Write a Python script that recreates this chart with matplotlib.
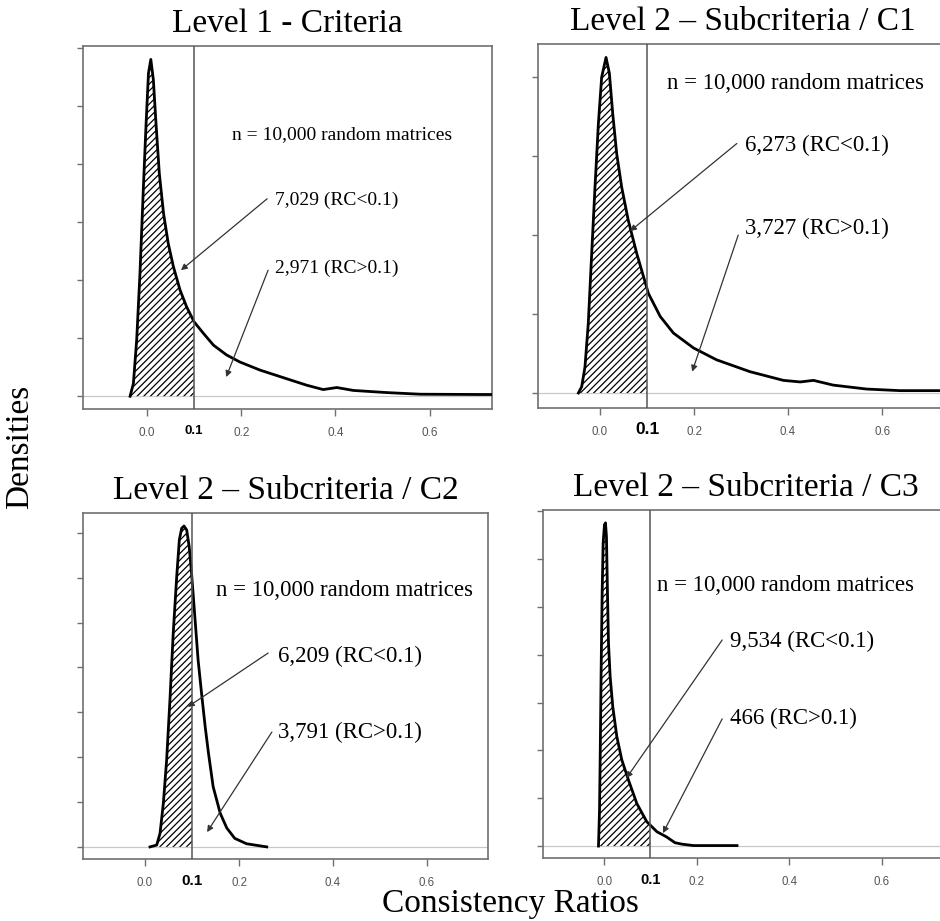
import numpy as np
import matplotlib
matplotlib.use("Agg")
import matplotlib.pyplot as plt

# density curves (x = consistency ratio, y = density, arbitrary units)
c1_x = [-0.036, -0.029, -0.022, -0.015, -0.008, -0.002, 0.003, 0.008, 0.0134, 0.019, 0.026, 0.035,
        0.045, 0.056, 0.070, 0.084, 0.100, 0.120, 0.141, 0.169, 0.197, 0.240, 0.297, 0.339, 0.374,
        0.403, 0.438, 0.509, 0.580, 0.707, 0.735]
c1_y = [0.0, 0.22, 0.97, 2.12, 3.55, 4.70, 5.56, 5.80, 5.45, 4.70, 3.84, 3.15,
        2.63, 2.23, 1.83, 1.54, 1.28, 1.08, 0.88, 0.71, 0.59, 0.45, 0.30, 0.19, 0.115,
        0.15, 0.10, 0.063, 0.035, 0.03, 0.03]

c2_x = [-0.046, -0.039, -0.032, -0.025, -0.018, -0.011, -0.0035, 0.0035, 0.0128, 0.0199, 0.027,
        0.0355, 0.046, 0.060, 0.078, 0.103, 0.128, 0.156, 0.199, 0.248, 0.319, 0.390, 0.426,
        0.454, 0.496, 0.567, 0.638, 0.723, 0.74]
c2_y = [0.0, 0.08, 0.33, 0.88, 1.73, 2.57, 3.41, 4.0, 4.25, 4.05, 3.54,
        3.03, 2.61, 2.19, 1.77, 1.26, 0.97, 0.76, 0.57, 0.42, 0.27, 0.16, 0.14,
        0.16, 0.10, 0.05, 0.03, 0.03, 0.035]

c3_x = [0.0106, 0.0248, 0.0319, 0.039, 0.046, 0.053, 0.060, 0.0674, 0.073, 0.078, 0.083, 0.0887,
        0.094, 0.099, 0.106, 0.113, 0.121, 0.128, 0.135, 0.145, 0.160, 0.174, 0.191, 0.216, 0.259]
c3_y = [0.0, 0.04, 0.30, 0.97, 1.94, 3.27, 4.76, 6.02, 6.84, 7.10, 7.15, 7.06,
        6.69, 6.10, 5.13, 4.16, 3.35, 2.68, 2.09, 1.34, 0.75, 0.42, 0.19, 0.07, 0.0]

c4_x = [-0.0122, -0.010, -0.0086, -0.0065, -0.0043, -0.0022, 0.0007, 0.0029, 0.005, 0.0072, 0.0094,
        0.013, 0.0187, 0.0274, 0.0382, 0.0526, 0.0706, 0.092, 0.114, 0.135, 0.153, 0.168, 0.193, 0.287]
c4_y = [0.0, 0.75, 1.8, 3.68, 5.29, 6.33, 6.72, 6.76, 6.47, 5.29, 4.24,
        3.54, 2.91, 2.29, 1.80, 1.38, 0.89, 0.51, 0.30, 0.19, 0.07, 0.04, 0.01, 0.01]

titles = ["Level 1 - Criteria", "Level 2 \u2013 Subcriteria / C1",
          "Level 2 \u2013 Subcriteria / C2", "Level 2 \u2013 Subcriteria / C3"]
below = ["7,029 (RC<0.1)", "6,273 (RC<0.1)", "6,209 (RC<0.1)", "9,534 (RC<0.1)"]
above = ["2,971 (RC>0.1)", "3,727 (RC>0.1)", "3,791 (RC>0.1)", "466 (RC>0.1)"]
n_text = "n = 10,000 random matrices"
threshold = 0.1

curves = [(c1_x, c1_y), (c2_x, c2_y), (c3_x, c3_y), (c4_x, c4_y)]

# layout: axes rectangles, limits, text placement
rects = [[0.0883, 0.5559, 0.4351, 0.3941],
         [0.5723, 0.5570, 0.4351, 0.3952],
         [0.0883, 0.0673, 0.4309, 0.3757],
         [0.5777, 0.0684, 0.4309, 0.3779]]
xlims = [(-0.136, 0.7325), (-0.132, 0.738), (-0.132, 0.730), (-0.132, 0.743)]
ylims = [(-0.22, 6.03), (-0.19, 4.42), (-0.27, 7.44), (-0.25, 7.03)]
ntick = [6, 4, 7, 7]
txt_size = [14, 16.5, 16.5, 16.5]
n_pos = [(0.180, 4.5), (0.143, 3.92), (0.151, 5.72), (0.114, 5.46)]
lab_pos = [((0.272, 3.38), (0.272, 2.2)), ((0.309, 3.13), (0.309, 2.09)),
           ((0.283, 4.25), (0.283, 2.54)), ((0.272, 4.27), (0.272, 2.66))]
arr1 = [((0.255, 3.40), (0.072, 2.17)), ((0.291, 3.16), (0.064, 2.05)),
        ((0.262, 4.32), (0.091, 3.12)), ((0.255, 4.31), (0.048, 1.42))]
arr2 = [((0.257, 2.17), (0.168, 0.33)), ((0.294, 2.0), (0.196, 0.27)),
        ((0.270, 2.56), (0.132, 0.33)), ((0.255, 2.66), (0.127, 0.27))]
tick_size = [8.5, 8.3, 8.3, 8.3]
bold_size = [9.5, 12.5, 11, 10.5]

plt.rcParams['hatch.linewidth'] = 0.9
serif = ['Liberation Serif', 'DejaVu Serif']
sans = ['Liberation Sans', 'DejaVu Sans']

fig = plt.figure(figsize=(9.4, 9.21), dpi=100)

for i in range(4):
    ax = fig.add_axes(rects[i])
    x = np.array(curves[i][0])
    y = np.array(curves[i][1])

    # hatched part below the threshold
    y_cut = np.interp(threshold, x, y)
    keep = x < threshold
    fx = np.append(x[keep], threshold)
    fy = np.append(y[keep], y_cut)
    ax.fill_between(fx, fy, 0, facecolor='white', edgecolor='black',
                    hatch='/////', linewidth=0, zorder=2)

    ax.axhline(0, color='#c8c8c8', lw=0.9, zorder=1)
    ax.plot(x, y, color='black', lw=2.0, zorder=3, solid_joinstyle='round')
    ax.axvline(threshold, color='#555555', lw=1.1, zorder=4)

    ax.set_xlim(*xlims[i])
    ax.set_ylim(*ylims[i])

    for s in ax.spines.values():
        s.set_color('#707070')
        s.set_linewidth(1.2)

    ax.set_yticks(range(ntick[i] + 1))
    ax.set_yticklabels([])
    ax.tick_params(axis='y', direction='out', length=4, width=1, color='#707070')

    ax.set_xticks([0.0, 0.2, 0.4, 0.6])
    ax.set_xticklabels(['0.0', '0.2', '0.4', '0.6'], fontfamily=sans)
    ax.set_xticks([threshold], minor=True)
    ax.set_xticklabels(['0.1'], minor=True, fontfamily=sans)
    ax.tick_params(axis='x', which='major', direction='out', length=5, width=1,
                   color='#707070', labelcolor='#555555', labelsize=tick_size[i], pad=8)
    ax.tick_params(axis='x', which='minor', length=0, labelcolor='black',
                   labelsize=bold_size[i], pad=12 - (bold_size[i] - tick_size[i]) * 0.5)
    for lbl in ax.get_xticklabels(minor=True):
        lbl.set_fontweight('bold')

    ax.set_title(titles[i], fontsize=24, family=serif, pad=10)

    ax.text(n_pos[i][0], n_pos[i][1], n_text, fontsize=txt_size[i], family=serif,
            va='center', ha='left', zorder=5)
    ax.text(lab_pos[i][0][0], lab_pos[i][0][1], below[i], fontsize=txt_size[i],
            family=serif, va='center', ha='left', zorder=5)
    ax.text(lab_pos[i][1][0], lab_pos[i][1][1], above[i], fontsize=txt_size[i],
            family=serif, va='center', ha='left', zorder=5)
    for (start, tip) in (arr1[i], arr2[i]):
        ax.annotate('', xy=tip, xytext=start,
                    arrowprops=dict(arrowstyle='-|>', color='#333333', lw=0.9,
                                    mutation_scale=9, shrinkA=0, shrinkB=0), zorder=5)

fig.text(20 / 940, 1 - 447 / 921, "Densities", rotation=90, fontsize=24,
         family=serif, ha='center', va='center')
fig.text(510 / 940, 1 - 912 / 921, "Consistency Ratios", fontsize=24,
         family=serif, ha='center', va='baseline')

fig.savefig("out.png", dpi=100)
